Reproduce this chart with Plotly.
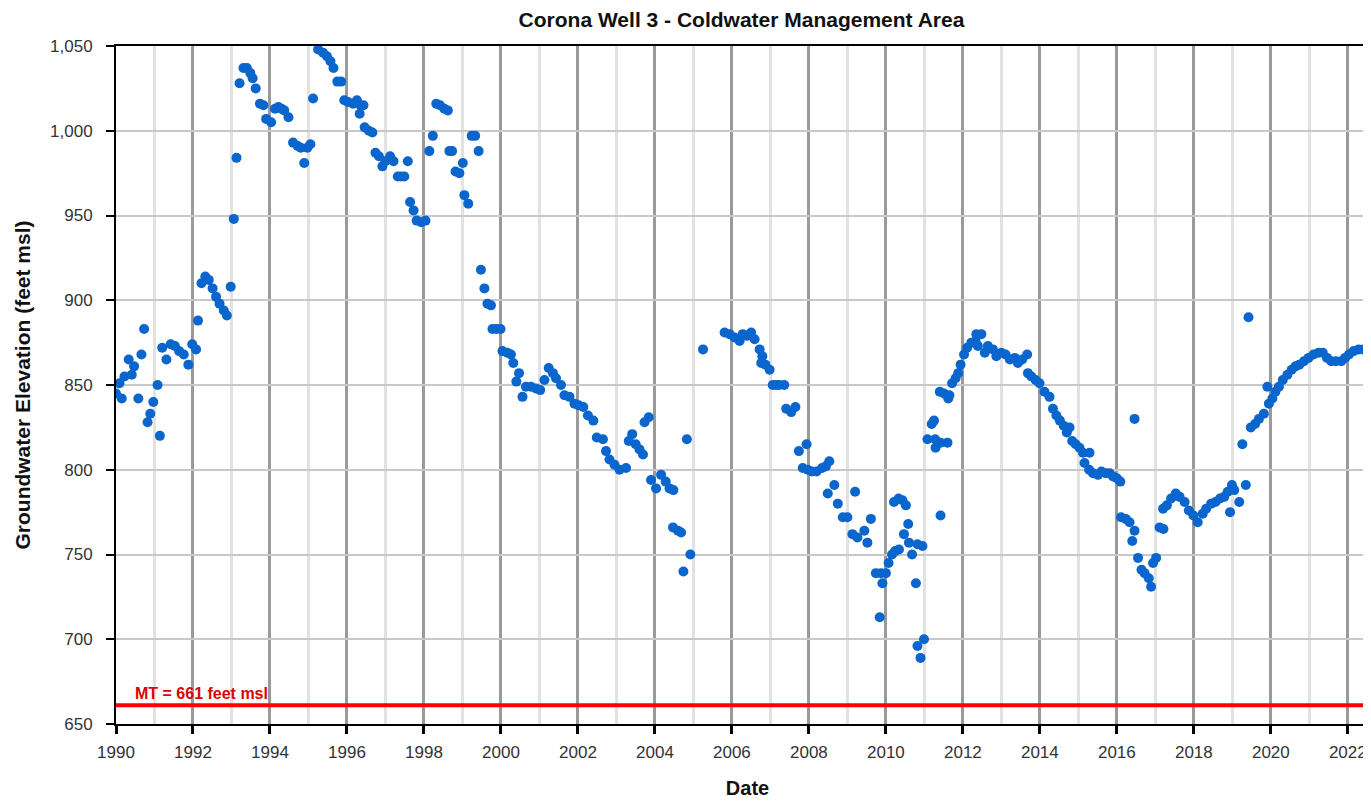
import plotly.graph_objects as go

# Groundwater elevation readings (decimal year, feet msl)
years = [
    1990.00, 1990.09, 1990.15, 1990.22, 1990.33, 1990.41, 1990.47, 1990.58, 1990.66, 1990.73,
    1990.82, 1990.89, 1990.97, 1991.08, 1991.14, 1991.20, 1991.31, 1991.42, 1991.53, 1991.64,
    1991.76, 1991.88, 1991.98, 1992.08, 1992.13, 1992.22, 1992.32, 1992.41, 1992.51, 1992.60,
    1992.69, 1992.80, 1992.88, 1992.98, 1993.06, 1993.13, 1993.21, 1993.31, 1993.40, 1993.49,
    1993.55, 1993.63, 1993.74, 1993.83, 1993.90, 1994.03, 1994.13, 1994.22, 1994.30, 1994.37,
    1994.48, 1994.60, 1994.72, 1994.80, 1994.89, 1994.97, 1995.05, 1995.12, 1995.25, 1995.38,
    1995.48, 1995.57, 1995.65, 1995.75, 1995.85, 1995.93, 1996.03, 1996.16, 1996.26, 1996.33,
    1996.35, 1996.43, 1996.46, 1996.57, 1996.66, 1996.74, 1996.83, 1996.92, 1997.00, 1997.12,
    1997.21, 1997.32, 1997.40, 1997.49, 1997.58, 1997.64, 1997.73, 1997.81, 1997.93, 1998.04,
    1998.14, 1998.23, 1998.32, 1998.42, 1998.53, 1998.62, 1998.66, 1998.73, 1998.82, 1998.92,
    1999.01, 1999.05, 1999.15, 1999.24, 1999.33, 1999.42, 1999.48, 1999.57, 1999.65, 1999.74,
    1999.78, 1999.88, 1999.99, 2000.04, 2000.17, 2000.26, 2000.32, 2000.40, 2000.47, 2000.56,
    2000.65, 2000.78, 2000.91, 2001.02, 2001.13, 2001.24, 2001.35, 2001.43, 2001.56, 2001.65,
    2001.78, 2001.91, 2002.02, 2002.14, 2002.26, 2002.40, 2002.49, 2002.65, 2002.73, 2002.82,
    2002.95, 2003.08, 2003.25, 2003.32, 2003.41, 2003.50, 2003.60, 2003.69, 2003.73, 2003.84,
    2003.90, 2004.03, 2004.16, 2004.28, 2004.38, 2004.48, 2004.47, 2004.60, 2004.68, 2004.74,
    2004.83, 2004.92, 2005.25, 2005.81, 2005.94, 2006.07, 2006.20, 2006.28, 2006.39, 2006.50,
    2006.59, 2006.72, 2006.79, 2006.76, 2006.87, 2006.98, 2007.06, 2007.15, 2007.23, 2007.36,
    2007.41, 2007.54, 2007.65, 2007.74, 2007.84, 2007.94, 2007.97, 2008.08, 2008.20, 2008.34,
    2008.44, 2008.49, 2008.53, 2008.66, 2008.75, 2008.88, 2009.00, 2009.13, 2009.20, 2009.26,
    2009.44, 2009.52, 2009.61, 2009.74, 2009.84, 2009.87, 2009.91, 2010.00, 2010.07, 2010.16,
    2010.21, 2010.24, 2010.33, 2010.34, 2010.43, 2010.47, 2010.52, 2010.58, 2010.60, 2010.68,
    2010.78, 2010.82, 2010.82, 2010.90, 2010.95, 2010.99, 2011.08, 2011.19, 2011.25, 2011.28,
    2011.29, 2011.40, 2011.42, 2011.42, 2011.51, 2011.60, 2011.62, 2011.65, 2011.72, 2011.81,
    2011.88, 2011.94, 2012.03, 2012.11, 2012.22, 2012.33, 2012.35, 2012.39, 2012.48, 2012.57,
    2012.65, 2012.78, 2012.87, 2013.00, 2013.11, 2013.22, 2013.35, 2013.43, 2013.54, 2013.67,
    2013.69, 2013.78, 2013.89, 2013.99, 2014.12, 2014.25, 2014.34, 2014.43, 2014.52, 2014.62,
    2014.70, 2014.77, 2014.84, 2014.93, 2015.03, 2015.12, 2015.16, 2015.28, 2015.29, 2015.38,
    2015.51, 2015.60, 2015.71, 2015.81, 2015.90, 2016.00, 2016.09, 2016.11, 2016.23, 2016.33,
    2016.40, 2016.46, 2016.46, 2016.55, 2016.64, 2016.72, 2016.83, 2016.89, 2016.94, 2017.02,
    2017.11, 2017.20, 2017.21, 2017.30, 2017.41, 2017.53, 2017.63, 2017.76, 2017.87, 2017.99,
    2018.10, 2018.23, 2018.32, 2018.45, 2018.56, 2018.68, 2018.79, 2018.88, 2018.94, 2018.99,
    2019.05, 2019.18, 2019.26, 2019.35, 2019.42, 2019.48, 2019.59, 2019.69, 2019.82, 2019.91,
    2019.95, 2020.04, 2020.12, 2020.21, 2020.31, 2020.43, 2020.54, 2020.64, 2020.74, 2020.86,
    2020.98, 2021.11, 2021.24, 2021.35, 2021.46, 2021.57, 2021.69, 2021.83, 2021.93, 2022.03,
    2022.15, 2022.28, 2022.40, 2022.53,
]
elevation = [
    845, 851, 842, 855, 865, 856, 861, 842, 868, 883,
    828, 833, 840, 850, 820, 872, 865, 874, 873, 870,
    868, 862, 874, 871, 888, 910, 914, 912, 907, 902,
    898, 894, 891, 908, 948, 984, 1028, 1037, 1037, 1034,
    1031, 1025, 1016, 1015, 1007, 1005, 1013, 1014, 1013, 1012,
    1008, 993, 991, 990, 981, 990, 992, 1019, 1048, 1046,
    1044, 1041, 1037, 1029, 1029, 1018, 1017, 1016, 1018, 1010,
    1015, 1015, 1002, 1000, 999, 987, 985, 979, 982, 985,
    982, 973, 973, 973, 982, 958, 953, 947, 946, 947,
    988, 997, 1016, 1015, 1013, 1012, 988, 988, 976, 975,
    981, 962, 957, 997, 997, 988, 918, 907, 898, 897,
    883, 883, 883, 870, 869, 868, 863, 852, 857, 843,
    849, 849, 848, 847, 853, 860, 857, 854, 850, 844,
    843, 839, 838, 837, 832, 829, 819, 818, 811, 806,
    803, 800, 801, 817, 821, 815, 812, 809, 828, 831,
    794, 789, 797, 793, 789, 788, 766, 764, 763, 740,
    818, 750, 871, 881, 880, 878, 876, 880, 879, 881,
    877, 871, 867, 863, 862, 859, 850, 850, 850, 850,
    836, 834, 837, 811, 801, 815, 800, 799, 799, 801,
    802, 786, 805, 791, 780, 772, 772, 762, 787, 760,
    764, 757, 771, 739, 713, 739, 733, 739, 745, 750,
    781, 752, 783, 753, 782, 762, 779, 768, 757, 750,
    733, 756, 696, 689, 755, 700, 818, 827, 829, 818,
    813, 846, 816, 773, 845, 816, 842, 844, 851, 854,
    857, 862, 868, 872, 875, 876, 880, 873, 880, 869,
    873, 871, 867, 869, 868, 865, 866, 863, 865, 868,
    857, 855, 853, 851, 846, 843, 836, 832, 829, 826,
    822, 825, 817, 815, 813, 810, 804, 800, 810, 798,
    797, 799, 798, 798, 796, 795, 793, 772, 771, 769,
    758, 764, 830, 748, 741, 739, 736, 731, 745, 748,
    766, 777, 765, 779, 783, 786, 784, 781, 776, 773,
    769, 774, 777, 780, 781, 783, 784, 787, 775, 791,
    788, 781, 815, 791, 890, 825, 827, 830, 833, 849,
    839, 842, 846, 849, 853, 856, 859, 861, 862, 864,
    866, 868, 869, 869, 866, 864, 864, 864, 866, 868,
    870, 871, 871, 871,
]

MT_LEVEL = 661
MT_LABEL = "MT = 661 feet msl"

FONT = "Liberation Sans, Arial, sans-serif"

fig = go.Figure()

fig.add_trace(go.Scatter(
    x=years, y=elevation,
    mode="markers",
    marker=dict(size=10, color="#0A66CC"),
    showlegend=False,
))

# Minimum threshold line
fig.add_hline(y=MT_LEVEL, line_color="#FF0000", line_width=4)
fig.add_annotation(
    x=1990.45, y=MT_LEVEL, xref="x", yref="y",
    text=f"<b>{MT_LABEL}</b>",
    showarrow=False, xanchor="left", yanchor="bottom", yshift=1,
    font=dict(family=FONT, size=16, color="#E00000"),
)

# page body adds an 8px offset, so margins are trimmed to compensate
fig.update_layout(
    width=1371, height=801,
    margin=dict(l=108, r=0, t=38, b=85),
    paper_bgcolor="white", plot_bgcolor="white",
    font=dict(family=FONT, color="#333333"),
    title=dict(
        text="<b>Corona Well 3 - Coldwater Management Area</b>",
        x=0.535, xanchor="center", y=0.986, yanchor="middle",
        font=dict(family=FONT, size=21, color="#111111"),
    ),
    xaxis=dict(
        range=[1990, 2022.81],
        tick0=1990, dtick=2, tickformat="d",
        showgrid=True, gridcolor="#9a9a9a", gridwidth=3,
        minor=dict(dtick=1, tick0=1990, showgrid=True, gridcolor="#e2e2e2", gridwidth=3),
        showline=True, linecolor="black", linewidth=2, mirror=True,
        ticks="outside", ticklen=8, tickwidth=3, tickcolor="black",
        tickfont=dict(size=17, color="#333333"), ticklabelstandoff=4,
        zeroline=False, automargin=False,
        title=dict(text="<b>Date</b>", font=dict(size=20, color="#111111"), standoff=20),
    ),
    yaxis=dict(
        range=[650, 1050],
        dtick=50, tickformat=",d",
        showgrid=True, gridcolor="#c8c8c8", gridwidth=2,
        showline=True, linecolor="black", linewidth=2,
        ticks="outside", ticklen=8, tickwidth=2, tickcolor="black",
        tickfont=dict(size=17, color="#333333"), ticklabelstandoff=10,
        zeroline=False, automargin=False,
        title=dict(text="<b>Groundwater Elevation (feet msl)</b>",
                   font=dict(size=21, color="#111111"), standoff=14),
    ),
)

fig.write_html("out.html")
